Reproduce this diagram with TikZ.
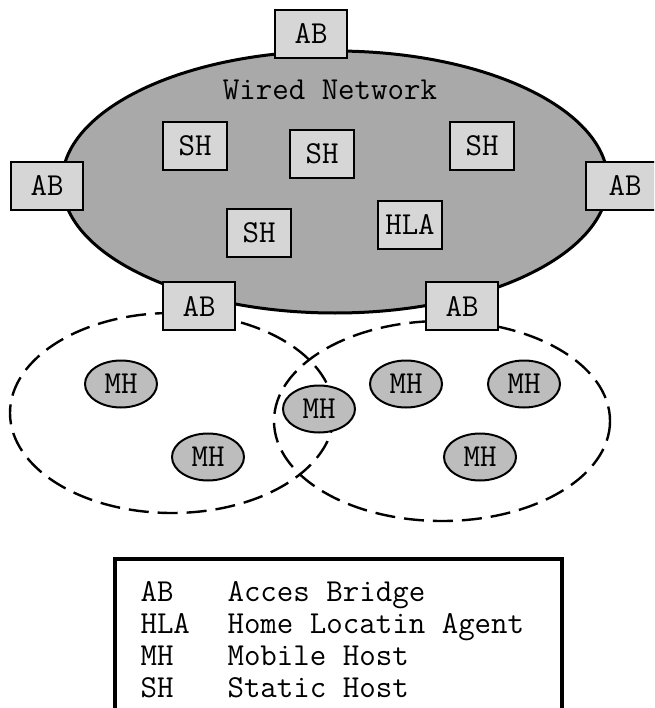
\documentclass[tikz,border=0pt]{standalone}
\usetikzlibrary{shapes.geometric}
\begin{document}
\begin{tikzpicture}[x=1pt,y=-1pt,
  txt/.style={font=\fontsize{32}{36}\ttfamily},
  boxA/.style={txt,draw=black,line width=1.8pt,fill=boxgray,minimum width=72pt,minimum height=48pt,inner sep=0pt},
  boxS/.style={boxA,minimum width=64pt},
  mh/.style={txt,ellipse,draw=black,line width=2pt,fill=mhgray,minimum width=72pt,minimum height=47pt,inner sep=0pt},
  cell/.style={draw=black,dash pattern=on 20pt off 9pt,line width=2.4pt}]
\definecolor{boxgray}{HTML}{D6D6D6}
\definecolor{netgray}{HTML}{A9A9A9}
\definecolor{mhgray}{HTML}{BDBDBD}
\useasboundingbox (0,0) rectangle (654,708);
\clip (0,0) rectangle (654,708);
% cells
\draw[cell] (172,413) ellipse [x radius=162, y radius=100];
\draw[cell] (442,421) ellipse [x radius=168, y radius=100];
% wired network
\draw[line width=3pt,fill=netgray] (335,182) ellipse [x radius=273, y radius=131];
\node[txt] (wn) at (330,90) {Wired Network};
% access bridges
\node[boxA] (abt) at (311,34) {AB};
\node[boxA] (abl) at (47,186) {AB};
\node[boxA] (abr) at (622,186) {\hspace*{6pt}AB};
\node[boxA] (abbl) at (199,306) {AB};
\node[boxA] (abbr) at (462,306) {AB};
% static hosts
\node[boxS] (sh1) at (195,146) {SH};
\node[boxS] (sh2) at (322,154) {SH};
\node[boxS] (sh3) at (482,146) {SH};
\node[boxS] (sh4) at (259,233) {SH};
\node[boxS] (hla) at (410,225) {HLA};
% mobile hosts
\node[mh] (mh1) at (121,384) {MH};
\node[mh] (mh2) at (208,457) {MH};
\node[mh] (mh3) at (319,409) {MH};
\node[mh] (mh4) at (406,384) {MH};
\node[mh] (mh5) at (524,384) {MH};
\node[mh] (mh6) at (480,457) {MH};
% legend
\draw[line width=4pt] (115,720) -- (115,559) -- (562,559) -- (562,720);
\node[txt,anchor=base west] (l1a) at (137,601) {AB};
\node[txt,anchor=base west] (l1b) at (224,601) {Acces Bridge};
\node[txt,anchor=base west] (l2a) at (137,633) {HLA};
\node[txt,anchor=base west] (l2b) at (224,633) {Home Locatin Agent};
\node[txt,anchor=base west] (l3a) at (137,665) {MH};
\node[txt,anchor=base west] (l3b) at (224,665) {Mobile Host};
\node[txt,anchor=base west] (l4a) at (137,697) {SH};
\node[txt,anchor=base west] (l4b) at (224,697) {Static Host};
\end{tikzpicture}
\end{document}
